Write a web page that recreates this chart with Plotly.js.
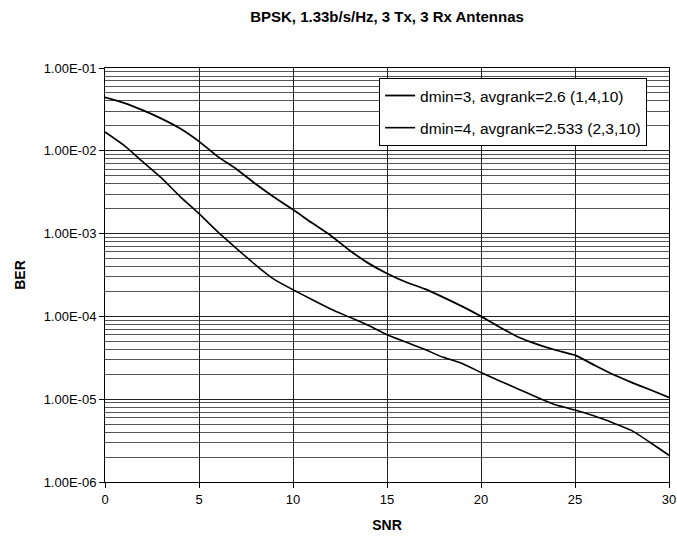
<!DOCTYPE html>
<html>
<head>
<meta charset="utf-8">
<script src="https://cdn.plot.ly/plotly-3.0.1.min.js"></script>
<style>html,body{margin:0;padding:0;background:#fff;}#chart{width:677px;height:543px;}</style>
</head>
<body>
<div id="chart"></div>
<script>
const snr = [0,1,2,3,4,5,6,7,8,9,10,11,12,13,14,15,16,17,18,19,20,21,22,23,24,25,26,27,28,29,30];
const berDmin3 = [0.0442,0.0380,0.0310,0.0245,0.0186,0.0130,0.0085,0.0060,0.0040,0.00275,0.00195,0.00135,9.5e-4,6.3e-4,4.4e-4,3.3e-4,2.6e-4,2.15e-4,1.7e-4,1.32e-4,1.0e-4,7.4e-5,5.6e-5,4.6e-5,3.9e-5,3.4e-5,2.6e-5,2.0e-5,1.6e-5,1.3e-5,1.05e-5];
const berDmin4 = [0.0169,0.0117,0.0074,0.0047,0.0028,0.00174,0.00105,6.6e-4,4.2e-4,2.8e-4,2.1e-4,1.6e-4,1.23e-4,9.8e-5,7.8e-5,6.0e-5,4.9e-5,4.0e-5,3.2e-5,2.7e-5,2.1e-5,1.66e-5,1.32e-5,1.05e-5,8.5e-6,7.4e-6,6.3e-6,5.2e-6,4.2e-6,3.0e-6,2.1e-6];
const seriesNames = ["dmin=3, avgrank=2.6 (1,4,10)", "dmin=4, avgrank=2.533 (2,3,10)"];
const yTickVals = [1e-6,1e-5,1e-4,1e-3,1e-2,1e-1];
const yTickText = ["1.00E-06","1.00E-05","1.00E-04","1.00E-03","1.00E-02","1.00E-01"];

const minorVals = [];
for (let e = -6; e <= -2; e++) for (let k = 2; k <= 9; k++) minorVals.push(k * Math.pow(10, e));

const font = "Arial, 'Liberation Sans', sans-serif";
const traces = [
  {x: snr, y: berDmin3, name: seriesNames[0], mode: "lines", legendgroup: "a",
   line: {color: "#000", width: 1.8, shape: "spline", smoothing: 0.5}},
  {x: snr, y: berDmin4, name: seriesNames[1], mode: "lines", legendgroup: "b",
   line: {color: "#000", width: 1.6, shape: "spline", smoothing: 0.5}}
];
const layout = {
  width: 677, height: 543,
  margin: {l: 105, r: 8, t: 68, b: 61},
  paper_bgcolor: "#fff", plot_bgcolor: "#fff",
  font: {family: font, color: "#000", size: 13},
  title: {text: "<b>BPSK, 1.33b/s/Hz, 3 Tx, 3 Rx Antennas</b>", font: {family: font, size: 15, color: "#000"},
          x: 0.5, xref: "paper", y: 0.969, yref: "container", yanchor: "middle"},
  xaxis: {range: [0, 30], dtick: 5, tick0: 0, showgrid: true, gridcolor: "#222", gridwidth: 1,
          zeroline: false, showline: true, linecolor: "#000", linewidth: 1, mirror: true,
          ticks: "outside", ticklen: 5, tickcolor: "#000", tickfont: {size: 13},
          title: {text: "<b>SNR</b>", font: {size: 14}, standoff: 14}},
  yaxis: {type: "log", range: [-6, -1], tickmode: "array", tickvals: yTickVals, ticktext: yTickText,
          showgrid: true, gridcolor: "#222", gridwidth: 1, zeroline: false,
          showline: true, linecolor: "#000", linewidth: 1, mirror: true,
          ticks: "outside", ticklen: 5, tickcolor: "#000", tickfont: {size: 13},
          minor: {tickmode: "array", tickvals: minorVals, showgrid: true, gridcolor: "#555", gridwidth: 1, ticks: ""},
          title: {text: "<b>BER</b>", font: {size: 14}, standoff: 14}},
  legend: {x: 0.486, y: 0.976, xanchor: "left", yanchor: "top", bgcolor: "#fff",
           bordercolor: "#000", borderwidth: 1, font: {size: 15.5, family: font},
           itemwidth: 30, tracegroupgap: 9, traceorder: "grouped", entrywidth: 282},
  showlegend: true
};
Plotly.newPlot("chart", traces, layout, {staticPlot: true, displayModeBar: false});
</script>
</body>
</html>
